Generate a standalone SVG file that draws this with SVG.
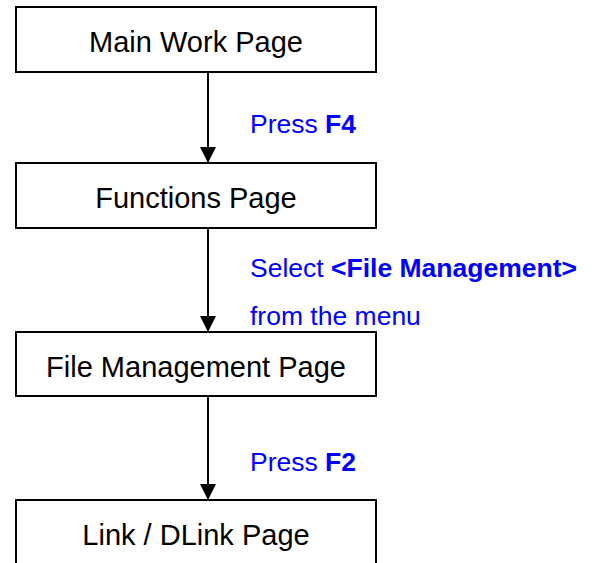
<svg xmlns="http://www.w3.org/2000/svg" width="592" height="563" viewBox="0 0 592 563">
<style>
.box{fill:#fff;stroke:#000;stroke-width:2}
.nt{font-family:"Liberation Sans",Arial,sans-serif;font-size:29px;fill:#000;text-anchor:middle}
.lb{font-family:"Liberation Sans",Arial,sans-serif;font-size:26.5px;fill:#0000ff}
.b{font-weight:bold}
.conn line{stroke:#000;stroke-width:2}
</style>
<defs>
<marker id="ah" markerUnits="userSpaceOnUse" markerWidth="16" markerHeight="16" refX="16" refY="8" orient="auto" viewBox="0 0 16 16">
<path d="M0,0 L16,8 L0,16 Z" fill="#000"/>
</marker>
</defs>
<rect width="592" height="563" fill="#fff"/>
<g id="connectors" class="conn">
<line x1="208" y1="72" x2="208" y2="163" marker-end="url(#ah)"/>
<line x1="208" y1="228" x2="208" y2="332" marker-end="url(#ah)"/>
<line x1="208" y1="396" x2="208" y2="500" marker-end="url(#ah)"/>
</g>
<g id="node-main">
<rect class="box" x="16" y="7" width="360" height="65"/>
<text class="nt" x="196" y="52">Main Work Page</text>
</g>
<g id="node-functions">
<rect class="box" x="16" y="163" width="360" height="65"/>
<text class="nt" x="196" y="208">Functions Page</text>
</g>
<g id="node-filemgmt">
<rect class="box" x="16" y="332" width="360" height="64"/>
<text class="nt" x="196" y="377">File Management Page</text>
</g>
<g id="node-link">
<rect class="box" x="16" y="500" width="360" height="66"/>
<text class="nt" x="196" y="545">Link / DLink Page</text>
</g>
<g id="labels">
<text class="lb" x="250" y="133">Press <tspan class="b">F4</tspan></text>
<text class="lb" x="250" y="277">Select <tspan class="b">&lt;File Management&gt;</tspan></text>
<text class="lb" x="250" y="325">from the menu</text>
<text class="lb" x="250" y="471">Press <tspan class="b">F2</tspan></text>
</g>
</svg>
